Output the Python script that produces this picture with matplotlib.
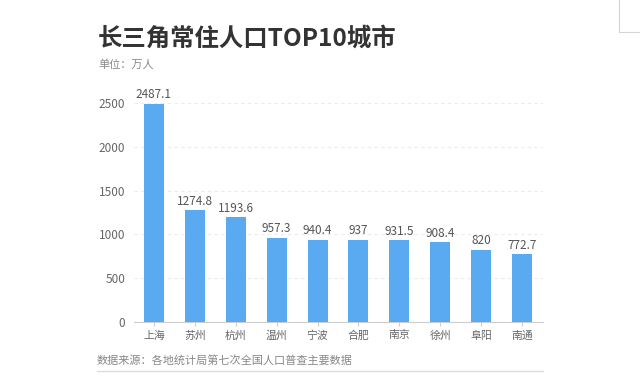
import matplotlib.pyplot as plt
from matplotlib.lines import Line2D

plt.rcParams['font.family'] = ['Noto Sans CJK SC', 'DejaVu Sans']

cities = ['上海', '苏州', '杭州', '温州', '宁波', '合肥', '南京', '徐州', '阜阳', '南通']
population = [2487.1, 1274.8, 1193.6, 957.3, 940.4, 937, 931.5, 908.4, 820, 772.7]
value_labels = ['2487.1', '1274.8', '1193.6', '957.3', '940.4', '937', '931.5', '908.4', '820', '772.7']
yticks = [0, 500, 1000, 1500, 2000, 2500]

W, H = 640, 379
fig = plt.figure(figsize=(6.4, 3.79), dpi=100)
ax = fig.add_axes([133.5 / W, 1 - 322 / H, 409 / W, 219 / H])

bars = ax.bar(range(len(cities)), population, width=0.49, color='#5aaaf2', zorder=3)
for b, lab in zip(bars, value_labels):
    ax.annotate(lab, (b.get_x() + b.get_width() / 2, b.get_height()),
                xytext=(0, 2), textcoords='offset points', ha='center', va='bottom',
                fontsize=8.5, color='#555555')

ax.set_xlim(-0.5, len(cities) - 0.5)
ax.set_ylim(0, 2500)
ax.set_yticks(yticks)
ax.set_xticks(range(len(cities)))
ax.set_xticklabels(cities)
ax.yaxis.grid(True, linestyle=(0, (3, 3)), color='#ebebeb', linewidth=0.8, zorder=0)
for s in ['top', 'right', 'left']:
    ax.spines[s].set_visible(False)
ax.spines['bottom'].set_color('#cccccc')
ax.tick_params(axis='y', length=0, pad=6, labelsize=8.5, labelcolor='#666666')
ax.tick_params(axis='x', length=3, color='#cccccc', pad=3, labelsize=7.8, labelcolor='#666666')

fig.text(98 / W, 1 - 38.5 / H, '长三角常住人口TOP10城市', fontsize=17.6, fontweight='bold',
         color='#333333', va='center', ha='left')
fig.text(98 / W, 1 - 65 / H, '单位：万人', fontsize=8, color='#888888', va='center', ha='left')
fig.text(97 / W, 1 - 361 / H, '数据来源：各地统计局第七次全国人口普查主要数据', fontsize=8,
         color='#888888', va='center', ha='left')

fig.add_artist(Line2D([97 / W, 543 / W], [1 - 371 / H, 1 - 371 / H], color='#dddddd', linewidth=1))
fig.add_artist(Line2D([619 / W, 619 / W, 1], [1, 1 - 32 / H, 1 - 32 / H], color='#d5d5d5', linewidth=0.8))

fig.savefig('out.png', dpi=100)
